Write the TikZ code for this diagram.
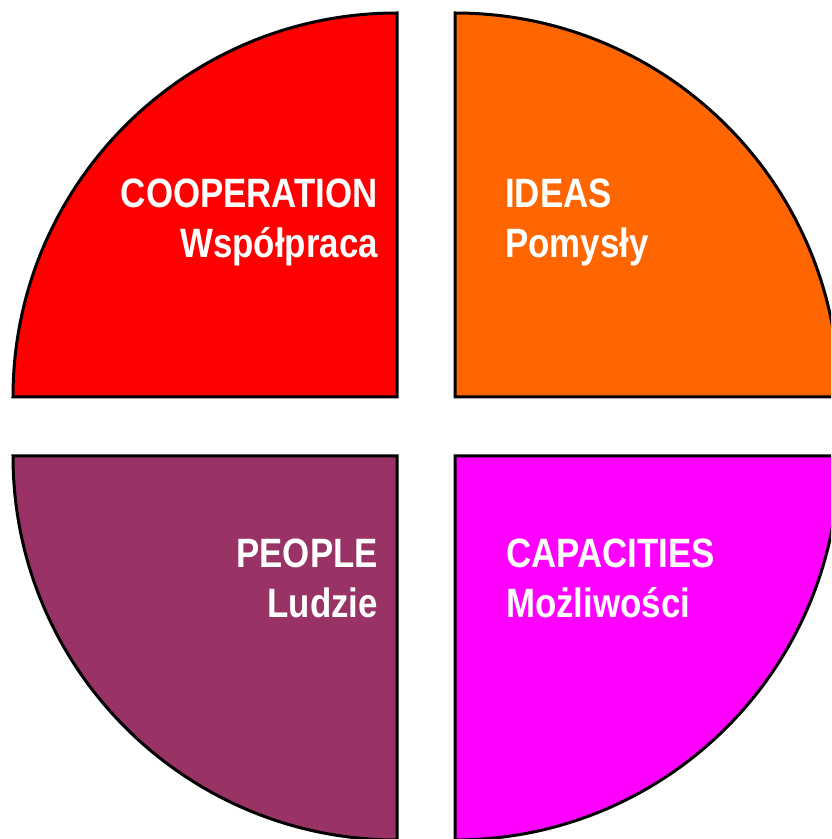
\documentclass[tikz,border=0pt]{standalone}
\usepackage{fontspec}
\setmainfont{Liberation Sans}[FakeStretch=0.85]
\usetikzlibrary{positioning}
\definecolor{coopred}{HTML}{FF0000}
\definecolor{ideaorange}{HTML}{FF6600}
\definecolor{peoplepurple}{HTML}{993366}
\definecolor{capmagenta}{HTML}{FF00FF}
\tikzset{quad/.style={draw=black, line width=3pt, line join=miter}}
\tikzset{lbl/.style={text=white, font=\bfseries\fontsize{41}{50}\selectfont, inner sep=0pt}}

\begin{document}
\begin{tikzpicture}[x=1pt, y=1pt]
\useasboundingbox (0,0) rectangle (831,839);
\clip (0,0) rectangle (831,839);
\fill[white] (0,0) rectangle (831,839);
\draw[quad, fill=coopred] (397,442) -- (397,826) arc[start angle=90, end angle=180, radius=384] -- cycle;
\draw[quad, fill=ideaorange] (455,442) -- (839,442) arc[start angle=0, end angle=90, radius=384] -- cycle;
\draw[quad, fill=peoplepurple] (397,383) -- (13,383) arc[start angle=180, end angle=270, radius=384] -- cycle;
\draw[quad, fill=capmagenta] (455,383) -- (455,-1) arc[start angle=270, end angle=360, radius=384] -- cycle;
\node[lbl, anchor=base east] (coop) at (378,631) {COOPERATION};
\node[lbl, anchor=base east] (coopPL) at (378,581) {Współpraca};
\node[lbl, anchor=base west] (ideas) at (505,631) {IDEAS};
\node[lbl, anchor=base west] (ideasPL) at (505,581) {Pomysły};
\node[lbl, anchor=base east] (people) at (378,271) {PEOPLE};
\node[lbl, anchor=base east] (peoplePL) at (378,221) {Ludzie};
\node[lbl, anchor=base west] (cap) at (506,271) {CAPACITIES};
\node[lbl, anchor=base west] (capPL) at (506,221) {Możliwości};
\end{tikzpicture}
\end{document}
